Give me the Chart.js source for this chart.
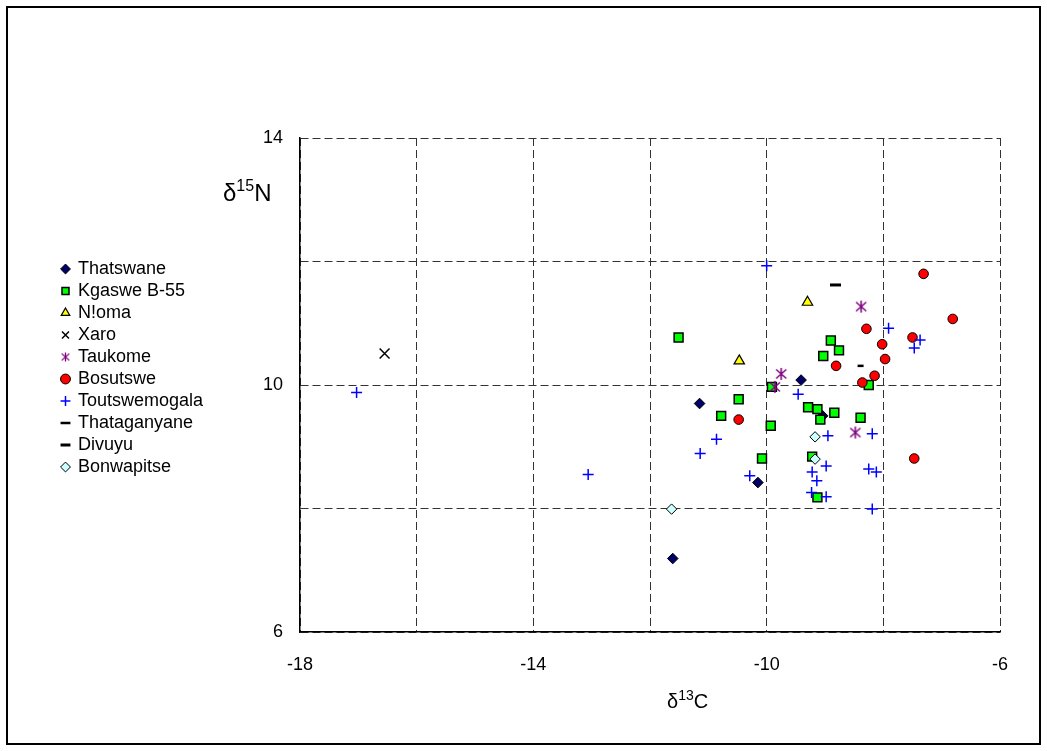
<!DOCTYPE html>
<html lang="en">
<head>
<meta charset="UTF-8">
<title>d13C vs d15N</title>
<style>
  body { margin: 0; background: #fff; }
  #wrap { width: 1047px; height: 751px; }
</style>
</head>
<body>
<div id="wrap"><canvas id="chart" width="1047" height="751"></canvas></div>
<script src="https://cdn.jsdelivr.net/npm/chart.js"></script>
<script>
  // legend order
  const seriesNames = ['Thatswane', 'Kgaswe B-55', 'N!oma', 'Xaro', 'Taukome', 'Bosutswe',
                       'Toutswemogala', 'Thataganyane', 'Divuyu', 'Bonwapitse'];

  // [d13C, d15N] pairs
  const thatswane = [[-9.41, 10.08], [-11.15, 9.70], [-9.04, 9.50], [-10.15, 8.42], [-11.61, 7.19]];
  const kgaswe = [[-11.51, 10.77], [-8.90, 10.72], [-8.76, 10.56], [-9.03, 10.47], [-8.25, 10.00],
                  [-9.91, 9.97], [-10.48, 9.77], [-10.78, 9.50], [-9.29, 9.64], [-9.13, 9.61],
                  [-9.08, 9.44], [-8.84, 9.55], [-8.39, 9.47], [-9.93, 9.34], [-10.08, 8.81],
                  [-9.22, 8.84], [-9.13, 8.18]];
  const noma = [[-9.30, 11.34], [-10.47, 10.39]];
  const xaro = [[-16.55, 10.51]];
  const taukome = [[-8.38, 11.27], [-9.75, 10.18], [-9.86, 9.97], [-8.48, 9.23]];
  const bosutswe = [[-7.31, 11.80], [-6.81, 11.07], [-8.29, 10.91], [-7.50, 10.77], [-8.02, 10.66],
                    [-7.97, 10.42], [-8.81, 10.31], [-8.15, 10.15], [-8.36, 10.04], [-10.48, 9.44],
                    [-7.47, 8.81]];
  const toutswemogala = [[-10.00, 11.93], [-7.91, 10.92], [-7.37, 10.73], [-7.47, 10.60], [-9.46, 9.85],
                         [-17.03, 9.88], [-13.06, 8.55], [-8.95, 9.18], [-8.19, 9.21], [-10.86, 9.12],
                         [-11.14, 8.89], [-8.98, 8.69], [-8.25, 8.64], [-8.12, 8.59], [-9.22, 8.59],
                         [-10.29, 8.53], [-9.14, 8.45], [-9.23, 8.26], [-8.98, 8.19], [-8.19, 7.99]];
  const thataganyane = [[-8.39, 10.31]];
  const divuyu = [[-8.82, 11.62]];
  const bonwapitse = [[-9.17, 9.16], [-9.17, 8.80], [-11.63, 7.99]];

  const xTickLabels = [-18, -14, -10, -6];
  const yTickLabels = [6, 10, 14];

  const FONT = 'Arial, "Liberation Sans", sans-serif';

  // six-armed asterisk for Taukome (chart.js 'star' has eight arms)
  function asterisk(size, lw) {
    const c = document.createElement('canvas');
    c.width = c.height = size;
    const g = c.getContext('2d');
    const m = size / 2, r = size / 2 - 1;
    g.strokeStyle = '#800080';
    g.lineWidth = lw;
    g.beginPath();
    g.moveTo(m, m - r); g.lineTo(m, m + r);
    g.moveTo(m - r * 0.85, m - r * 0.75); g.lineTo(m + r * 0.85, m + r * 0.75);
    g.moveTo(m - r * 0.85, m + r * 0.75); g.lineTo(m + r * 0.85, m - r * 0.75);
    g.stroke();
    return c;
  }
  const starBig = asterisk(14, 1.5);
  const starSmall = asterisk(11, 1.3);

  const pts = arr => arr.map(p => ({ x: p[0], y: p[1] }));

  const styles = [
    { data: thatswane, pointStyle: 'rectRot', bg: '#000066', bc: '#000', r: 5.3, bw: 1 },
    { data: kgaswe, pointStyle: 'rect', bg: '#00ff00', bc: '#000', r: 6.3, bw: 1.5 },
    { data: noma, pointStyle: 'triangle', bg: '#ffff00', bc: '#000', r: 6, bw: 1.2 },
    { data: xaro, pointStyle: 'crossRot', bg: '#000', bc: '#000', r: 7, bw: 1.5 },
    { data: taukome, pointStyle: starBig, bg: '#800080', bc: '#800080', r: 6, bw: 1.5 },
    { data: bosutswe, pointStyle: 'circle', bg: '#ff0000', bc: '#000', r: 4.8, bw: 1 },
    { data: toutswemogala, pointStyle: 'cross', bg: '#0000ff', bc: '#0000ff', r: 5.5, bw: 1.5 },
    { data: thataganyane, pointStyle: 'line', bg: '#000', bc: '#000', r: 3, bw: 2.5 },
    { data: divuyu, pointStyle: 'line', bg: '#000', bc: '#000', r: 5.5, bw: 3 },
    { data: bonwapitse, pointStyle: 'rectRot', bg: '#ccffff', bc: '#000', r: 5.2, bw: 1 }
  ];

  const datasets = styles.map((s, i) => ({
    label: seriesNames[i],
    data: pts(s.data),
    pointStyle: s.pointStyle,
    backgroundColor: s.bg,
    borderColor: s.bc,
    borderWidth: s.bw,
    pointRadius: s.r,
    pointHoverRadius: s.r,
    order: -i   // first series drawn first, like the original
  }));

  // white page with the outer frame
  const frame = {
    id: 'frame',
    beforeDraw(chart) {
      const ctx = chart.ctx;
      ctx.save();
      ctx.fillStyle = '#fff';
      ctx.fillRect(0, 0, chart.width, chart.height);
      ctx.strokeStyle = '#000';
      ctx.lineWidth = 2;
      ctx.strokeRect(7, 7, 1033, 737);
      ctx.restore();
    }
  };

  // axis titles with superscripts
  function supText(ctx, x, y, base, sup, tail, size, supSize) {
    ctx.font = size + 'px ' + FONT;
    ctx.fillText(base, x, y);
    x += ctx.measureText(base).width;
    ctx.font = supSize + 'px ' + FONT;
    ctx.fillText(sup, x, y - size * 0.42);
    x += ctx.measureText(sup).width;
    ctx.font = size + 'px ' + FONT;
    ctx.fillText(tail, x, y);
  }
  const axisTitles = {
    id: 'axisTitles',
    afterDraw(chart) {
      const ctx = chart.ctx;
      ctx.save();
      ctx.fillStyle = '#000';
      ctx.textBaseline = 'alphabetic';
      ctx.textAlign = 'left';
      supText(ctx, 667, 708, 'δ', '13', 'C', 20, 14);
      supText(ctx, 223, 201, 'δ', '15', 'N', 24, 16);
      ctx.restore();
    }
  };

  const gridStyle = { color: '#333', lineWidth: 1, drawTicks: false };
  const borderStyle = { display: true, color: '#000', width: 1.5, dash: [8, 4] };

  new Chart(document.getElementById('chart'), {
    type: 'scatter',
    data: { datasets },
    options: {
      responsive: false,
      animation: false,
      events: [],
      layout: { padding: { top: 138, left: 58, right: 47, bottom: 8 } },
      scales: {
        x: {
          type: 'linear',
          min: -18, max: -6,
          grid: gridStyle,
          border: borderStyle,
          ticks: {
            stepSize: 2,
            padding: 22,
            color: '#000',
            font: { size: 18, family: FONT },
            callback: v => xTickLabels.includes(v) ? String(v) : ''
          },
          afterFit: s => { s.height = 111; }
        },
        y: {
          type: 'linear',
          min: 6, max: 14,
          grid: gridStyle,
          border: borderStyle,
          ticks: {
            stepSize: 2,
            padding: 17,
            color: '#000',
            font: { size: 18, family: FONT },
            callback: v => yTickLabels.includes(v) ? String(v) : ''
          },
          afterFit: s => {
            const lw = s.chart.legend ? s.chart.legend.width : 168;
            s.width = 300 - 58 - lw;
          }
        }
      },
      plugins: {
        tooltip: { enabled: false },
        legend: {
          position: 'left',
          align: 'start',
          fullSize: false,
          title: { display: true, text: ' ', font: { size: 10 }, padding: { top: 106, bottom: 0 } },
          labels: {
            usePointStyle: true,
            boxWidth: 7,
            boxHeight: 7,
            padding: 4,
            color: '#000',
            font: { size: 18, family: FONT },
            sort: (a, b) => a.datasetIndex - b.datasetIndex,
            generateLabels: chart => {
              const items = Chart.defaults.plugins.legend.labels.generateLabels(chart);
              items.forEach(it => { if (it.pointStyle === starBig) it.pointStyle = starSmall; });
              return items;
            }
          }
        }
      }
    },
    plugins: [frame, axisTitles]
  });
</script>
</body>
</html>
